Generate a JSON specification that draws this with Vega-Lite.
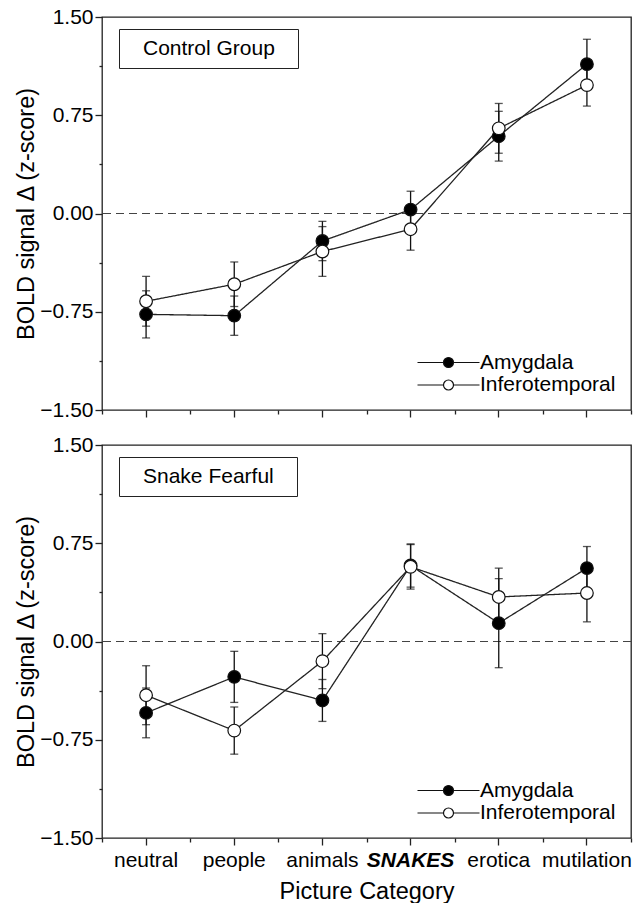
{
  "$schema": "https://vega.github.io/schema/vega-lite/v6.json",
  "padding": {"left": 14, "top": 5, "right": 5, "bottom": 0},
  "data": {"values": [
    {"group": "Control Group", "category": "neutral", "region": "Amygdala", "mean": -0.77, "se": 0.18},
    {"group": "Control Group", "category": "neutral", "region": "Inferotemporal", "mean": -0.67, "se": 0.19},
    {"group": "Control Group", "category": "people", "region": "Amygdala", "mean": -0.78, "se": 0.15},
    {"group": "Control Group", "category": "people", "region": "Inferotemporal", "mean": -0.54, "se": 0.17},
    {"group": "Control Group", "category": "animals", "region": "Amygdala", "mean": -0.21, "se": 0.15},
    {"group": "Control Group", "category": "animals", "region": "Inferotemporal", "mean": -0.29, "se": 0.19},
    {"group": "Control Group", "category": "SNAKES", "region": "Amygdala", "mean": 0.03, "se": 0.14},
    {"group": "Control Group", "category": "SNAKES", "region": "Inferotemporal", "mean": -0.12, "se": 0.16},
    {"group": "Control Group", "category": "erotica", "region": "Amygdala", "mean": 0.59, "se": 0.19},
    {"group": "Control Group", "category": "erotica", "region": "Inferotemporal", "mean": 0.65, "se": 0.19},
    {"group": "Control Group", "category": "mutilation", "region": "Amygdala", "mean": 1.14, "se": 0.19},
    {"group": "Control Group", "category": "mutilation", "region": "Inferotemporal", "mean": 0.98, "se": 0.16},
    {"group": "Snake Fearful", "category": "neutral", "region": "Amygdala", "mean": -0.545, "se": 0.19},
    {"group": "Snake Fearful", "category": "neutral", "region": "Inferotemporal", "mean": -0.41, "se": 0.225},
    {"group": "Snake Fearful", "category": "people", "region": "Amygdala", "mean": -0.27, "se": 0.195},
    {"group": "Snake Fearful", "category": "people", "region": "Inferotemporal", "mean": -0.68, "se": 0.18},
    {"group": "Snake Fearful", "category": "animals", "region": "Amygdala", "mean": -0.45, "se": 0.16},
    {"group": "Snake Fearful", "category": "animals", "region": "Inferotemporal", "mean": -0.15, "se": 0.21},
    {"group": "Snake Fearful", "category": "SNAKES", "region": "Amygdala", "mean": 0.58, "se": 0.165},
    {"group": "Snake Fearful", "category": "SNAKES", "region": "Inferotemporal", "mean": 0.57, "se": 0.17},
    {"group": "Snake Fearful", "category": "erotica", "region": "Amygdala", "mean": 0.14, "se": 0.34},
    {"group": "Snake Fearful", "category": "erotica", "region": "Inferotemporal", "mean": 0.34, "se": 0.22},
    {"group": "Snake Fearful", "category": "mutilation", "region": "Amygdala", "mean": 0.56, "se": 0.165},
    {"group": "Snake Fearful", "category": "mutilation", "region": "Inferotemporal", "mean": 0.37, "se": 0.22}
  ]},
  "bounds": "flush",
  "spacing": 35,
  "vconcat": [
    {
      "width": 529, "height": 393,
      "transform": [{"filter": "datum.group === 'Control Group'"}],
      "resolve": {"axis": {"x": "independent", "y": "independent"}},
      "layer": [
        {
          "data": {"values": [{"ref": 0}]},
          "mark": {"type": "rule", "strokeDash": [8, 5], "color": "#444", "strokeWidth": 1.2},
          "encoding": {"y": {"field": "ref", "type": "quantitative", "scale": {"domain": [-1.5, 1.5], "nice": false, "zero": false}, "axis": null}}
        },
        {
          "mark": {"type": "errorbar", "color": "#111", "thickness": 1.3, "ticks": {"size": 8, "thickness": 1.3}},
          "encoding": {
            "x": {"field": "category", "type": "nominal", "sort": ["neutral", "people", "animals", "SNAKES", "erotica", "mutilation"], "scale": {"type": "band", "paddingInner": 0, "paddingOuter": 0}, "axis": null},
            "y": {"field": "mean", "type": "quantitative", "scale": {"domain": [-1.5, 1.5], "nice": false, "zero": false}, "axis": null},
            "yError": {"field": "se"},
            "detail": {"field": "region"}
          }
        },
        {
          "mark": {"type": "line", "color": "#222", "strokeWidth": 1.3},
          "encoding": {
            "x": {"field": "category", "type": "nominal", "sort": ["neutral", "people", "animals", "SNAKES", "erotica", "mutilation"], "scale": {"type": "band", "paddingInner": 0, "paddingOuter": 0}, "axis": {"orient": "bottom", "tickBand": "extent", "labels": false, "tickSize": 4, "title": null}},
            "y": {"field": "mean", "type": "quantitative", "scale": {"domain": [-1.5, 1.5], "nice": false, "zero": false}, "axis": {"orient": "left", "values": [-1.125, -0.375, 0.375, 1.125], "labels": false, "tickSize": 3, "title": null}},
            "detail": {"field": "region"},
            "order": {"value": null},
            "strokeDash": {"field": "group", "type": "nominal", "scale": {"range": [[1, 0]]}, "legend": {"orient": "none", "legendX": 17, "legendY": 12, "title": " ", "titleOrient": "right", "titleFontSize": 1, "titlePadding": 14, "strokeColor": "#222", "padding": 9, "symbolType": "circle", "symbolSize": 4, "symbolOpacity": 0, "labelOffset": -6, "labelFontSize": 21, "labelColor": "black"}}
          }
        },
        {
          "mark": {"type": "point", "shape": "circle", "filled": true, "size": 160, "stroke": "#111", "strokeWidth": 1.2, "opacity": 1},
          "encoding": {
            "x": {"field": "category", "type": "nominal", "sort": ["neutral", "people", "animals", "SNAKES", "erotica", "mutilation"], "scale": {"type": "band", "paddingInner": 0, "paddingOuter": 0}, "axis": {"orient": "bottom", "labels": false, "tickSize": 7, "title": null}},
            "y": {"field": "mean", "type": "quantitative", "scale": {"domain": [-1.5, 1.5], "nice": false, "zero": false}, "axis": {"orient": "left", "values": [-1.5, -0.75, 0, 0.75, 1.5], "format": ".2f", "tickSize": 7, "labelPadding": 2, "title": "BOLD signal Δ (z-score)", "titlePadding": 1}},
            "fill": {"field": "region", "type": "nominal", "scale": {"domain": ["Amygdala", "Inferotemporal"], "range": ["#000000", "#ffffff"]}, "legend": {"orient": "bottom-right", "offset": 15, "title": null, "padding": 0, "symbolType": "M -6.2 0 L -1 0 M 1 0 L 6.2 0 M 1 0 A 1 1 0 1 0 -1 0 A 1 1 0 1 0 1 0 Z", "symbolSize": 100, "symbolStrokeColor": "#111", "symbolStrokeWidth": 1.2, "symbolOffset": 0, "labelOffset": 21, "labelFontSize": 21, "labelColor": "black", "rowPadding": 0.5}}
          }
        }
      ]
    },
    {
      "width": 529, "height": 393,
      "transform": [{"filter": "datum.group === 'Snake Fearful'"}],
      "resolve": {"axis": {"x": "independent", "y": "independent"}},
      "layer": [
        {
          "data": {"values": [{"ref": 0}]},
          "mark": {"type": "rule", "strokeDash": [8, 5], "color": "#444", "strokeWidth": 1.2},
          "encoding": {"y": {"field": "ref", "type": "quantitative", "scale": {"domain": [-1.5, 1.5], "nice": false, "zero": false}, "axis": null}}
        },
        {
          "mark": {"type": "errorbar", "color": "#111", "thickness": 1.3, "ticks": {"size": 8, "thickness": 1.3}},
          "encoding": {
            "x": {"field": "category", "type": "nominal", "sort": ["neutral", "people", "animals", "SNAKES", "erotica", "mutilation"], "scale": {"type": "band", "paddingInner": 0, "paddingOuter": 0}, "axis": null},
            "y": {"field": "mean", "type": "quantitative", "scale": {"domain": [-1.5, 1.5], "nice": false, "zero": false}, "axis": null},
            "yError": {"field": "se"},
            "detail": {"field": "region"}
          }
        },
        {
          "mark": {"type": "line", "color": "#222", "strokeWidth": 1.3},
          "encoding": {
            "x": {"field": "category", "type": "nominal", "sort": ["neutral", "people", "animals", "SNAKES", "erotica", "mutilation"], "scale": {"type": "band", "paddingInner": 0, "paddingOuter": 0}, "axis": {"orient": "bottom", "tickBand": "extent", "labels": false, "tickSize": 4, "title": null}},
            "y": {"field": "mean", "type": "quantitative", "scale": {"domain": [-1.5, 1.5], "nice": false, "zero": false}, "axis": {"orient": "left", "values": [-1.125, -0.375, 0.375, 1.125], "labels": false, "tickSize": 3, "title": null}},
            "detail": {"field": "region"},
            "order": {"value": null},
            "strokeDash": {"field": "group", "type": "nominal", "scale": {"range": [[1, 0]]}, "legend": {"orient": "none", "legendX": 17, "legendY": 12, "title": " ", "titleOrient": "right", "titleFontSize": 1, "titlePadding": 14, "strokeColor": "#222", "padding": 9, "symbolType": "circle", "symbolSize": 4, "symbolOpacity": 0, "labelOffset": -6, "labelFontSize": 21, "labelColor": "black"}}
          }
        },
        {
          "mark": {"type": "point", "shape": "circle", "filled": true, "size": 160, "stroke": "#111", "strokeWidth": 1.2, "opacity": 1},
          "encoding": {
            "x": {"field": "category", "type": "nominal", "sort": ["neutral", "people", "animals", "SNAKES", "erotica", "mutilation"], "scale": {"type": "band", "paddingInner": 0, "paddingOuter": 0}, "axis": {"orient": "bottom", "labels": true, "labelAngle": 0, "tickSize": 7, "labelPadding": 4, "title": "Picture Category", "titlePadding": 9, "labelFontWeight": {"condition": {"test": "datum.value === 'SNAKES'", "value": "bold"}, "value": "normal"}, "labelFontStyle": {"condition": {"test": "datum.value === 'SNAKES'", "value": "italic"}, "value": "normal"}}},
            "y": {"field": "mean", "type": "quantitative", "scale": {"domain": [-1.5, 1.5], "nice": false, "zero": false}, "axis": {"orient": "left", "values": [-1.5, -0.75, 0, 0.75, 1.5], "format": ".2f", "tickSize": 7, "labelPadding": 2, "title": "BOLD signal Δ (z-score)", "titlePadding": 1}},
            "fill": {"field": "region", "type": "nominal", "scale": {"domain": ["Amygdala", "Inferotemporal"], "range": ["#000000", "#ffffff"]}, "legend": {"orient": "bottom-right", "offset": 15, "title": null, "padding": 0, "symbolType": "M -6.2 0 L -1 0 M 1 0 L 6.2 0 M 1 0 A 1 1 0 1 0 -1 0 A 1 1 0 1 0 1 0 Z", "symbolSize": 100, "symbolStrokeColor": "#111", "symbolStrokeWidth": 1.2, "symbolOffset": 0, "labelOffset": 21, "labelFontSize": 21, "labelColor": "black", "rowPadding": 0.5}}
          }
        }
      ]
    }
  ],
  "resolve": {"legend": {"fill": "independent", "strokeDash": "independent"}, "scale": {"strokeDash": "independent", "fill": "independent"}},
  "config": {
    "font": "Liberation Sans",
    "view": {"stroke": "#222", "strokeWidth": 1.3},
    "axis": {"grid": false, "domain": false, "tickColor": "#222", "tickWidth": 1.3, "labelColor": "black", "titleColor": "black", "labelFontSize": 21, "titleFontSize": 23.5, "titleFontWeight": "normal"},
    "legend": {"labelFont": "Liberation Sans"}
  }
}
